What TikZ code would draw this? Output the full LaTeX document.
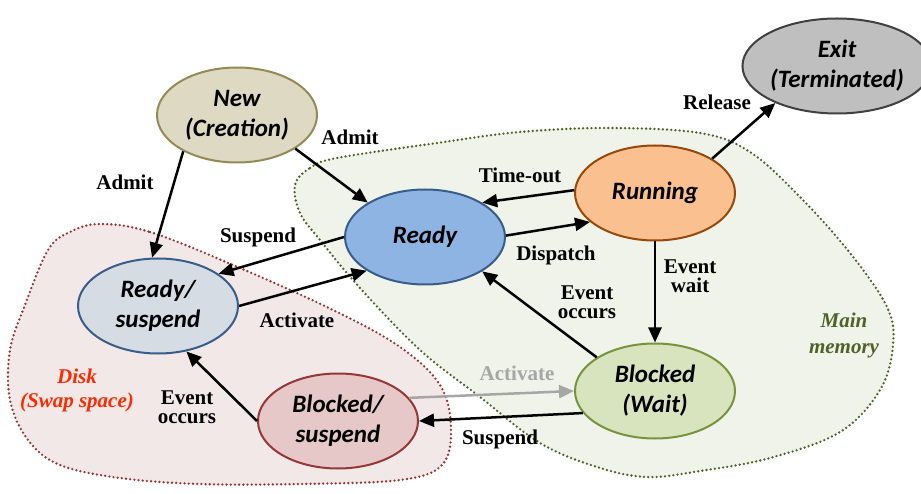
\documentclass[tikz,border=0pt]{standalone}
\usepackage{fontspec}
\setmainfont{Liberation Serif}
\newfontfamily\statefont{Carlito}
\usetikzlibrary{shapes.geometric, arrows.meta}

\definecolor{newfill}{HTML}{DDD9C3}
\definecolor{newline}{HTML}{948A54}
\definecolor{readyfill}{HTML}{8EB4E3}
\definecolor{readyline}{HTML}{385D8A}
\definecolor{runfill}{HTML}{FAC090}
\definecolor{runline}{HTML}{984807}
\definecolor{blockfill}{HTML}{D7E4BD}
\definecolor{blockline}{HTML}{77933C}
\definecolor{rsfill}{HTML}{D5DCE4}
\definecolor{bsfill}{HTML}{E6C8C8}
\definecolor{diskline}{HTML}{953735}
\definecolor{diskfill}{HTML}{F2E8E8}
\definecolor{exitfill}{HTML}{BFBFBF}
\definecolor{exitline}{HTML}{404040}
\definecolor{memfill}{HTML}{EFF3E9}
\definecolor{memline}{HTML}{4F6228}
\definecolor{disktext}{HTML}{FF2A00}
\definecolor{greyarrow}{HTML}{A6A6A6}

\begin{document}
\begin{tikzpicture}[x=1pt, y=-1pt,
  state/.style={ellipse, draw, line width=2pt, minimum width=160pt, minimum height=95pt,
    inner sep=0pt, align=center, font=\statefont\bfseries\itshape\fontsize{25}{30}\selectfont},
  move/.style={line width=2.5pt, -{Triangle[length=15pt,width=13pt]}},
  lbl/.style={align=center, font=\bfseries\fontsize{21}{19}\selectfont},
  area/.style={dash pattern=on 0pt off 4.2pt, line cap=round, line width=2.6pt}]
\useasboundingbox (0,0) rectangle (921,494);

% memory areas
\draw[area, draw=memline, fill=memfill] plot[smooth cycle, tension=0.6] coordinates {
  (295,185) (310,168) (337,158) (437,143) (520,132) (610,128) (700,133) (750,152)
  (800,197) (850,253) (887,307) (893,345) (880,390) (840,432) (770,458) (700,471)
  (647,477) (597,467) (540,443) (480,397) (420,350) (360,288) (320,240) (300,213)};
\draw[area, draw=diskline, fill=diskfill] plot[smooth cycle, tension=0.6] coordinates {
  (100,224) (150,232) (233,265) (333,310) (400,347) (440,385) (451,428) (442,465)
  (400,480) (300,484) (200,484) (120,478) (60,465) (28,440) (10,400) (10,350)
  (25,305) (48,250) (70,232)};
\node[font=\bfseries\itshape\fontsize{21}{24}\selectfont, text=disktext, align=center] (disk) at (77,390) {Disk\\(Swap space)};
\node[font=\bfseries\itshape\fontsize{21}{26}\selectfont, text=memline, align=center] (mem) at (844,335) {Main\\memory};

% states
\node[state, draw=newline, fill=newfill] (new) at (237,115) {New\\(Creation)};
\node[state, draw=readyline, fill=readyfill] (ready) at (425,237) {Ready};
\node[state, draw=runline, fill=runfill] (run) at (655,193) {Running};
\node[state, draw=blockline, fill=blockfill] (block) at (655,391) {Blocked\\(Wait)};
\node[state, draw=exitline, fill=exitfill] (exit) at (837,66) {Exit\\(Terminated)};
\node[state, draw=readyline, fill=rsfill] (rs) at (158,306) {Ready/\\suspend};
\node[state, draw=diskline, fill=bsfill] (bs) at (338,421) {Blocked/\\suspend};

% transitions
\draw[move] (new.-30) -- (ready.149);
\draw[move] (new.-146) -- (rs.97);
\draw[move] (run.178) -- (ready.31);
\draw[move] (ready.1) -- (run.-156);
\draw[move] (run.-90) -- (block.90);
\draw[move] (block.150) -- (ready.-31);
\draw[move] (run.31) -- (exit.-149);
\draw[move] (ready.180) -- (rs.28);
\draw[move] (rs.0) -- (ready.-150);
\draw[move] (bs.180) -- (rs.-58);
\draw[move, draw=greyarrow] (bs.18) -- (block.180);
\draw[move] (block.-163) -- (bs.0);

% labels
\node[lbl] (admitA) at (350,137) {Admit};
\node[lbl] (admitB) at (125,182) {Admit};
\node[lbl] (timeout) at (520,175) {Time-out};
\node[lbl] (dispatch) at (556,255) {Dispatch};
\node[lbl] (evwait) at (690,276) {Event\\wait};
\node[lbl] (evoccA) at (587,302) {Event\\occurs};
\node[lbl] (release) at (717,102) {Release};
\node[lbl] (suspA) at (258,237) {Suspend};
\node[lbl] (actA) at (297,320) {Activate};
\node[lbl] (evoccB) at (187,407) {Event\\occurs};
\node[lbl, text=greyarrow] (actB) at (517,373) {Activate};
\node[lbl] (suspB) at (500,439) {Suspend};
\end{tikzpicture}
\end{document}
